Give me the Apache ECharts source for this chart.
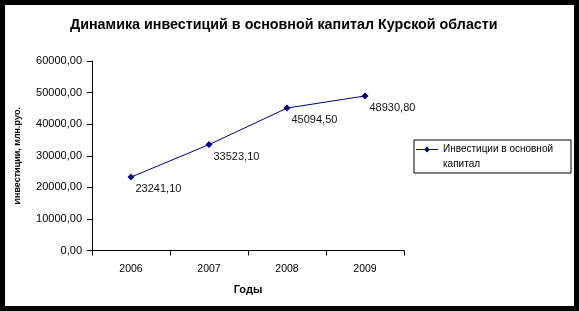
<!DOCTYPE html>
<html><head><meta charset="utf-8">
<script src="https://cdn.jsdelivr.net/npm/echarts@6/dist/echarts.min.js"></script>
<style>
html,body{margin:0;padding:0;background:#000;width:579px;height:311px;overflow:hidden}
#c{position:absolute;left:5px;top:5px;width:569px;height:301px;background:#fff}
</style></head>
<body><div id="c"></div>
<script>
const titleText = 'Динамика инвестиций в основной капитал Курской области';
const years = ['2006', '2007', '2008', '2009'];
const investments = [23241.10, 33523.10, 45094.50, 48930.80];
const seriesName = 'Инвестиции в основной капитал';
const legendLines = ['Инвестиции в основной', 'капитал'];
const yAxisTitle = 'Инвестиции, млн.руб.';
const xAxisTitle = 'Годы';

const fmt = v => Number(v).toFixed(2).replace('.', ',');
const font = 'Liberation Sans, Arial, sans-serif';
const chart = echarts.init(document.getElementById('c'));
chart.setOption({
  animation: false,
  textStyle: {fontFamily: font},
  title: {
    text: titleText, left: 60, top: 8,
    textStyle: {fontSize: 14.3, fontWeight: 'bold', color: '#000', fontFamily: font}
  },
  grid: {left: 87, top: 56, width: 312, height: 189.5, containLabel: false, outerBoundsMode: 'none'},
  legend: {
    data: [{name: seriesName}],
    left: 409, top: 135, orient: 'vertical',
    borderColor: '#000', borderWidth: 1, borderRadius: 0,
    padding: [2, 3, 2, 2],
    icon: 'path://M0,0 L0.01,0 L0.01,0.01 Z M0,6.5 L22,6.5 L22,7.5 L0,7.5 Z M11,4 L14,7 L11,10 L8,7 Z M0,27.99 L0.01,27.99 L0.01,28 Z',
    itemWidth: 22, itemHeight: 28, itemGap: 2,
    itemStyle: {color: '#000080', borderWidth: 0},
    formatter: () => legendLines.join('\n'),
    textStyle: {fontSize: 10, color: '#000', lineHeight: 14.5, fontFamily: font, width: 125, overflow: 'none'}
  },
  xAxis: {
    type: 'category', data: years, boundaryGap: true,
    name: xAxisTitle, nameLocation: 'middle', nameGap: 34,
    nameTextStyle: {fontSize: 11, fontWeight: 'bold', color: '#000', fontFamily: font},
    axisLine: {lineStyle: {color: '#000', width: 1}},
    axisTick: {show: true, alignWithLabel: false, length: 5, inside: false, lineStyle: {color: '#000'}},
    axisLabel: {fontSize: 10.5, color: '#000', margin: 13, fontFamily: font},
    splitLine: {show: false}
  },
  yAxis: {
    type: 'value', min: 0, max: 60000, interval: 10000,
    name: yAxisTitle, nameLocation: 'middle', nameRotate: 90, nameGap: 70,
    nameTextStyle: {fontSize: 9, fontWeight: 'bold', color: '#000', fontFamily: font},
    axisLine: {show: true, lineStyle: {color: '#000', width: 1}},
    axisTick: {show: true, length: 5, lineStyle: {color: '#000'}},
    axisLabel: {fontSize: 11, color: '#000', margin: 10, formatter: fmt, fontFamily: font},
    splitLine: {show: false}
  },
  series: [{
    name: seriesName, type: 'line', data: investments,
    symbol: 'diamond', symbolSize: 7,
    lineStyle: {color: '#000080', width: 1},
    itemStyle: {color: '#000080'},
    label: {
      show: true, position: 'right', distance: 1, offset: [0, 12],
      formatter: p => fmt(p.value), fontSize: 11, color: '#111', fontFamily: font
    }
  }],
  graphic: [{
    type: 'rect', left: 0, top: 90, z: 100, silent: true,
    shape: {width: 10, height: 130}, style: {fill: '#fff'}
  }]
});
</script></body></html>
